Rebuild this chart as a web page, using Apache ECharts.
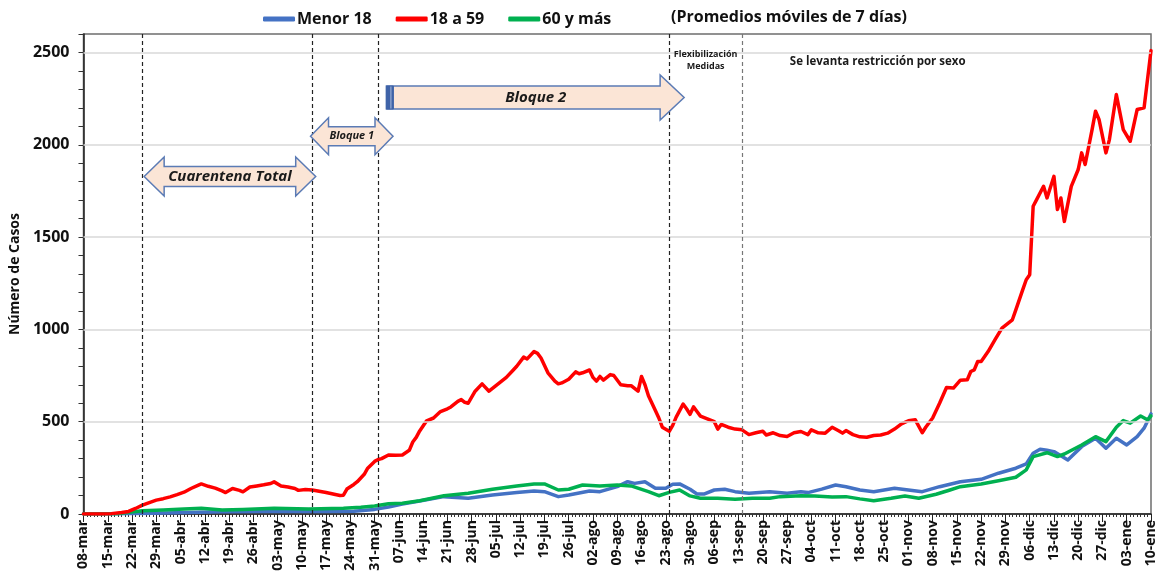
<!DOCTYPE html>
<html>
<head>
<meta charset="utf-8">
<script src="https://cdn.jsdelivr.net/npm/echarts@6/dist/echarts.min.js"></script>
<style>
html,body{margin:0;padding:0;background:#fff;}
#c{width:1159px;height:579px;}
</style>
</head>
<body>
<div id="c"></div>
<script>
// ---- categories (daily, 08-mar-2020 .. 10-ene-2021) ----
const startDate = [2020, 2, 8];
const nDays = 309;
const monthNames = ['ene','feb','mar','abr','may','jun','jul','ago','sep','oct','nov','dic'];
const categories = [];
for (let i = 0; i < nDays; i++) {
  const d = new Date(startDate[0], startDate[1], startDate[2] + i);
  categories.push(String(d.getDate()).padStart(2,'0') + '-' + monthNames[d.getMonth()]);
}

// ---- series values: [dayIndex, value] ----
const menor18 = [[0,0],[10,1],[20,4],[30,8],[40,12],[50,14],[60,13],[70,13],[78,15],[84,25],[88,38],[92,54],[97,70],[104,94],[111,85],[118,103],[125,116],[130,125],[133,121],[137,94],[140,103],[146,125],[149,121],[154,148],[157,175],[159,166],[162,175],[165,139],[168,139],[170,161],[172,163],[175,134],[177,108],[179,108],[182,130],[185,134],[188,121],[192,112],[198,121],[203,112],[207,121],[209,116],[213,135],[217,157],[220,148],[224,130],[228,121],[234,139],[238,130],[242,121],[247,148],[253,175],[259,188],[264,221],[269,248],[272,271],[274,329],[276,351],[278,345],[280,338],[284,293],[288,365],[292,410],[295,356],[298,410],[301,374],[304,419],[306,465],[308,542]];

const de18a59 = [[0,0],[5,0],[8,2],[11,8],[13,14],[15,30],[17,48],[19,62],[21,75],[23,83],[25,93],[27,105],[29,118],[31,138],[33,155],[34,163],[36,150],[38,140],[40,125],[41,116],[43,138],[45,128],[46,120],[48,146],[50,152],[52,158],[54,165],[55,174],[57,152],[59,146],[61,138],[62,128],[64,133],[66,130],[68,123],[70,116],[72,108],[74,100],[75,102],[76,135],[78,160],[79,175],[81,215],[82,248],[84,285],[85,295],[86,300],[88,320],[90,318],[92,320],[94,345],[95,390],[96,415],[97,450],[99,505],[101,520],[103,555],[105,570],[106,580],[108,610],[109,620],[110,605],[111,600],[113,665],[115,705],[117,665],[118,680],[120,710],[122,740],[124,780],[125,800],[127,850],[128,840],[130,880],[131,870],[132,845],[134,765],[136,720],[137,705],[138,710],[140,730],[142,770],[143,760],[144,765],[146,780],[147,740],[148,720],[149,745],[150,725],[152,755],[153,750],[155,700],[157,695],[158,695],[159,680],[160,665],[161,745],[162,700],[163,640],[165,560],[166,520],[167,470],[169,448],[170,480],[171,525],[173,595],[174,570],[175,540],[176,580],[177,555],[178,530],[180,515],[182,500],[183,460],[184,485],[186,470],[188,460],[190,456],[192,430],[194,440],[196,448],[197,428],[199,440],[201,425],[203,420],[205,440],[207,447],[209,430],[210,456],[212,440],[214,438],[216,470],[218,450],[219,438],[220,452],[222,430],[224,418],[226,416],[228,425],[230,428],[232,438],[234,460],[236,488],[238,505],[240,510],[242,440],[243,470],[245,520],[247,600],[249,685],[251,682],[253,725],[255,727],[256,772],[257,781],[258,826],[259,826],[261,880],[263,944],[265,1007],[268,1052],[269,1106],[271,1215],[272,1269],[273,1296],[274,1667],[275,1703],[277,1775],[278,1712],[280,1829],[281,1649],[282,1712],[283,1585],[285,1775],[287,1866],[288,1956],[289,1893],[291,2082],[292,2182],[293,2137],[295,1956],[296,2028],[298,2272],[300,2082],[302,2019],[304,2191],[306,2200],[308,2510]];

const mas60 = [[0,0],[10,2],[17,17],[23,22],[29,27],[34,31],[40,22],[46,25],[55,31],[65,27],[75,31],[80,36],[84,43],[88,55],[92,58],[97,72],[104,99],[111,112],[118,134],[125,152],[130,163],[133,163],[137,130],[140,134],[144,157],[149,152],[154,157],[158,152],[163,121],[166,99],[169,117],[172,130],[175,98],[178,85],[183,85],[188,80],[193,85],[198,85],[201,94],[207,99],[211,98],[216,92],[220,94],[224,82],[228,72],[233,85],[237,98],[241,85],[246,107],[250,130],[253,148],[259,163],[264,180],[269,199],[272,239],[274,311],[278,332],[281,311],[283,325],[288,374],[292,419],[295,392],[298,470],[300,506],[302,492],[305,531],[307,510],[308,531]];

const seriesNames = ['Menor 18', '18 a 59', '60 y más'];
const seriesColors = ['#4472C4', '#FF0000', '#00B050'];
const yGridValues = [500, 1000, 1500, 2000, 2500];
const eventDays = ['25-mar', '13-may', '01-jun', '24-ago', '14-sep'];
// annotations: [label, fromDay, toDay, yValue]
const arrowCuarentena = ['Cuarentena Total', 17.5, 67, 1828];
const arrowBloque1 = ['Bloque 1', 65.5, 89.3, 2046];
const arrowBloque2 = ['Bloque 2', 87.4, 173.3, 2256];

const FONT = '"Open Sans", "Liberation Sans", sans-serif';

const chart = echarts.init(document.getElementById('c'), null, {renderer: 'canvas'});

const option = {
  animation: false,
  backgroundColor: '#ffffff',
  grid: {left: 82, right: 8, top: 34, bottom: 65, show: true, borderColor: '#6e6e6e', borderWidth: 1.5, backgroundColor: 'transparent'},
  legend: {
    left: 258, top: 6, itemWidth: 32, itemHeight: 5, itemGap: 24, icon: 'roundRect',
    data: seriesNames,
    textStyle: {fontFamily: FONT, fontWeight: 'bold', fontSize: 16, color: '#111', padding: [0,0,0,-3]}
  },
  title: {
    text: '(Promedios móviles de 7 días)', left: 666, top: 4,
    textStyle: {fontFamily: FONT, fontWeight: 'bold', fontSize: 16, color: '#111'}
  },
  xAxis: [{
    type: 'category', data: categories, boundaryGap: false,
    axisLine: {lineStyle: {color: '#222', width: 1.5}},
    axisTick: {interval: 0, length: 3, lineStyle: {color: '#333'}},
    axisLabel: {interval: 6, rotate: 90, fontFamily: FONT, fontWeight: 'bold', fontSize: 14, color: '#111', margin: 6},
    splitLine: {show: false}
  }, {
    type: 'category', data: categories, boundaryGap: false, position: 'bottom',
    axisLine: {show: false},
    axisTick: {interval: 6, length: 8, lineStyle: {color: '#222'}},
    axisLabel: {show: false}, splitLine: {show: false}
  }],
  yAxis: {
    type: 'value', min: 0, max: 2600, interval: 100,
    name: 'Número de Casos', nameLocation: 'middle', nameGap: 56, nameRotate: 90,
    nameTextStyle: {fontFamily: FONT, fontWeight: 'bold', fontSize: 14, color: '#111'},
    axisLine: {show: true, lineStyle: {color: '#222', width: 1.5}},
    axisTick: {show: true, length: 5, lineStyle: {color: '#333'}},
    axisLabel: {
      fontFamily: FONT, fontWeight: 'bold', fontSize: 16, color: '#111', margin: 14,
      formatter: v => (v % 500 === 0 ? String(v) : '')
    },
    splitLine: {show: false}
  },
  series: [
    {
      name: '_ref', type: 'line', data: [], silent: true, z: 1,
      markLine: {
        silent: true, symbol: 'none', animation: false, label: {show: false},
        data: yGridValues.map(v => ({yAxis: v, lineStyle: {color: '#d9d9d9', width: 1.5, type: 'solid'}}))
          .concat(eventDays.map((d, i) => ({xAxis: d, lineStyle: {color: i === 4 ? '#777' : '#222', width: 1.2, type: [4, 3]}})))
      }
    }
  ].concat(seriesNames.map((n, i) => ({
    name: n, type: 'line', showSymbol: false, symbol: 'none', z: 3 + (i === 1 ? 1 : 0),
    data: [menor18, de18a59, mas60][i],
    itemStyle: {color: seriesColors[i]},
    lineStyle: {color: seriesColors[i], width: 3.5, cap: 'round', join: 'round'}
  })))
};
chart.setOption(option);

// ---- annotation shapes positioned through the chart's own scales ----
function px(day, val) {
  const p0 = chart.convertToPixel({xAxisIndex: 0, yAxisIndex: 0}, [0, val]);
  const p1 = chart.convertToPixel({xAxisIndex: 0, yAxisIndex: 0}, [nDays - 1, val]);
  return [p0[0] + (p1[0] - p0[0]) * day / (nDays - 1), p0[1]];
}
const FILL = '#FBE5D6', STROKE = '#5B7BB5';
function doubleArrow(a, H, S, h) {
  const L = px(a[1], a[3]), R = px(a[2], a[3]);
  const x1 = L[0], x2 = R[0], y = L[1];
  return {
    type: 'polygon', z: 50,
    shape: {points: [[x1,y],[x1+h,y-H],[x1+h,y-S],[x2-h,y-S],[x2-h,y-H],[x2,y],[x2-h,y+H],[x2-h,y+S],[x1+h,y+S],[x1+h,y+H]]},
    style: {fill: FILL, stroke: STROKE, lineWidth: 1.5}
  };
}
function rightArrow(a, H, S, h) {
  const L = px(a[1], a[3]), R = px(a[2], a[3]);
  const x1 = L[0], x2 = R[0], y = L[1];
  return {
    type: 'polygon', z: 50,
    shape: {points: [[x1,y-S],[x2-h,y-S],[x2-h,y-H],[x2,y],[x2-h,y+H],[x2-h,y+S],[x1,y+S]]},
    style: {fill: FILL, stroke: STROKE, lineWidth: 1.5}
  };
}
function label(text, day, val, size, style, align) {
  const p = px(day, val);
  return {
    type: 'text', z: 60, x: p[0], y: p[1],
    style: {text: text, fontFamily: FONT, fontSize: size, fontWeight: 'bold', fontStyle: style || 'normal',
            fill: '#1a1a1a', align: align || 'center', verticalAlign: 'middle'}
  };
}
const b2L = px(arrowBloque2[1], arrowBloque2[3]);
const graphics = [
  doubleArrow(arrowCuarentena, 19.5, 10, 20),
  label(arrowCuarentena[0], (arrowCuarentena[1] + arrowCuarentena[2]) / 2, arrowCuarentena[3], 15, 'italic'),
  doubleArrow(arrowBloque1, 18.5, 9.5, 18),
  label(arrowBloque1[0], (arrowBloque1[1] + arrowBloque1[2]) / 2, arrowBloque1[3], 11, 'italic'),
  rightArrow(arrowBloque2, 22.5, 11.5, 24),
  {type: 'rect', z: 55, shape: {x: b2L[0], y: b2L[1] - 11.5, width: 7, height: 23}, style: {fill: '#3F63A8', stroke: '#3F63A8', lineWidth: 1}},
  {type: 'line', z: 56, shape: {x1: b2L[0] + 4.5, y1: b2L[1] - 11, x2: b2L[0] + 4.5, y2: b2L[1] + 11}, style: {stroke: '#A9BBDD', lineWidth: 1}},
  label(arrowBloque2[0], 130.5, arrowBloque2[3], 15, 'italic'),
  label('Flexibilización', 179.5, 2490, 9),
  label('Medidas', 179.5, 2422, 9),
  label('Se levanta restricción por sexo', 203.8, 2451, 11.5, 'normal', 'left')
];
chart.setOption({graphic: graphics});
</script>
</body>
</html>
